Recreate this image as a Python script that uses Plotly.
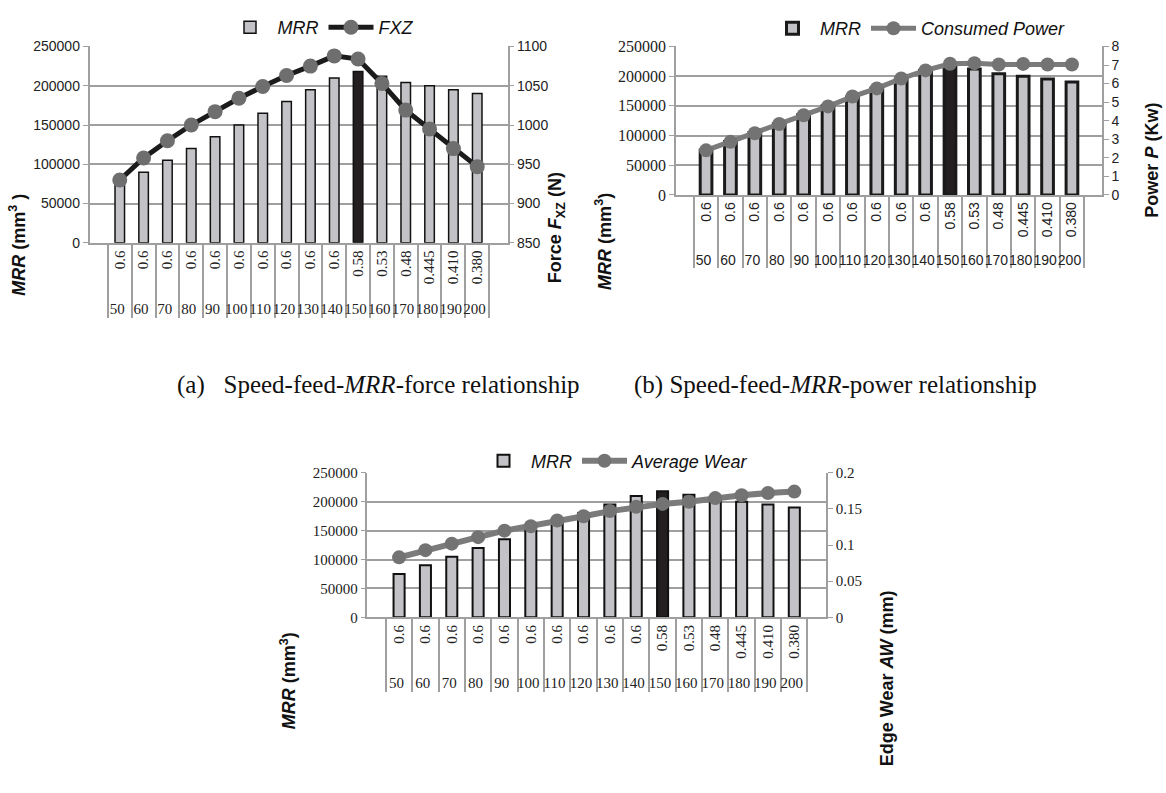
import plotly.graph_objects as go

# ---------------- data ----------------
speeds = [50, 60, 70, 80, 90, 100, 110, 120, 130, 140, 150, 160, 170, 180, 190, 200]
feeds = ["0.6", "0.6", "0.6", "0.6", "0.6", "0.6", "0.6", "0.6", "0.6", "0.6",
         "0.58", "0.53", "0.48", "0.445", "0.410", "0.380"]
mrr = [75000, 90000, 105000, 120000, 135000, 150000, 165000, 180000, 195000,
       210000, 218000, 212000, 204000, 200000, 195000, 190000]
fxz = [930, 958, 980, 1000, 1017, 1034, 1049, 1063, 1075, 1088, 1084, 1053,
       1019, 995, 970, 947]
power = [2.40, 2.86, 3.32, 3.82, 4.29, 4.77, 5.30, 5.74, 6.27, 6.71, 7.07, 7.10,
         7.03, 7.06, 7.03, 7.03]
wear = [0.083, 0.093, 0.102, 0.111, 0.120, 0.126, 0.134, 0.140, 0.147, 0.153,
        0.157, 0.160, 0.165, 0.169, 0.172, 0.174]
highlight_speed = 150

W, H = 1166, 793
SANS = "Liberation Sans, Arial, sans-serif"
SERIF = "Liberation Serif, Times New Roman, serif"
GRID = "#9f9f9f"
BARGRAY = "#c3c3c7"
DARK = "#231f20"

xcat = [[str(s) for s in speeds], feeds]
bar_colors = [DARK if s == highlight_speed else BARGRAY for s in speeds]


def px(x):
    return x / W


def py(y):
    return 1 - y / H


fig = go.Figure()

# ---------- chart (a) ----------
fig.add_trace(go.Bar(x=xcat, y=mrr, name="<i>MRR</i>", width=0.4,
                     marker=dict(color=bar_colors, line=dict(color="#111", width=1.5)),
                     xaxis="x", yaxis="y", legend="legend"))
fig.add_trace(go.Scatter(x=xcat, y=fxz, name="<i>FXZ</i>", mode="lines+markers",
                         line=dict(color="#1b1b1b", width=5),
                         marker=dict(color="#6e6e6e", size=15),
                         xaxis="x", yaxis="y2", legend="legend"))

# ---------- chart (b) ----------
fig.add_trace(go.Bar(x=xcat, y=mrr, name="<i>MRR</i>", width=0.48,
                     marker=dict(color=bar_colors, line=dict(color="#1a1a1a", width=3)),
                     xaxis="x2", yaxis="y3", legend="legend2"))
fig.add_trace(go.Scatter(x=xcat, y=power, name="<i>Consumed Power</i>", mode="lines+markers",
                         line=dict(color="#7b7b7b", width=5),
                         marker=dict(color="#737373", size=14),
                         xaxis="x2", yaxis="y4", legend="legend2"))

# ---------- chart (c) ----------
fig.add_trace(go.Bar(x=xcat, y=mrr, name="<i>MRR</i>", width=0.42,
                     marker=dict(color=bar_colors, line=dict(color="#111", width=2)),
                     xaxis="x3", yaxis="y5", legend="legend3"))
fig.add_trace(go.Scatter(x=xcat, y=wear, name="<i>Average Wear</i>", mode="lines+markers",
                         line=dict(color="#7b7b7b", width=6),
                         marker=dict(color="#737373", size=14),
                         xaxis="x3", yaxis="y6", legend="legend3"))


def xaxis_cfg(domain, anchor, fam, size):
    return dict(type="multicategory", domain=domain, anchor=anchor,
                showline=True, linecolor=GRID, linewidth=1.5,
                showdividers=True, dividercolor=GRID, dividerwidth=1.5,
                tickangle=-90, tickfont=dict(family=fam, size=size, color="#222"),
                showgrid=False, zeroline=False)


def yleft(domain, anchor, fam, size):
    return dict(domain=domain, anchor=anchor, range=[0, 250000], dtick=50000,
                tickformat="d", showgrid=True, gridcolor=GRID, gridwidth=1.5,
                showline=True, linecolor=GRID, linewidth=1.5, ticks="outside",
                ticklen=5, tickcolor=GRID, zeroline=False,
                tickfont=dict(family=fam, size=size, color="#222"))


def yright(overlay, anchor, rng, dtick, fam, size):
    return dict(overlaying=overlay, anchor=anchor, side="right", range=rng, dtick=dtick,
                showgrid=False, showline=True, linecolor=GRID, linewidth=1.5,
                ticks="outside", ticklen=5, tickcolor=GRID, zeroline=False,
                tickfont=dict(family=fam, size=size, color="#222"))


dom_a_x = [px(89.5), px(507.5)]
dom_a_y = [py(240), py(39.3)]
dom_b_x = [px(676), px(1102)]
dom_b_y = [py(191), py(39.3)]
dom_c_x = [px(367.4), px(826)]
dom_c_y = [py(622.7), py(475)]

leg_common = dict(orientation="h", xanchor="center", yanchor="middle",
                  bgcolor="rgba(0,0,0,0)", traceorder="normal", itemwidth=45,
                  font=dict(family=SANS, size=18, color="#111"))

fig.update_layout(
    width=W, height=H, margin=dict(l=0, r=0, t=0, b=0),
    paper_bgcolor="white", plot_bgcolor="white", bargap=0.5,
    xaxis=xaxis_cfg(dom_a_x, "y", SERIF, 15),
    yaxis=yleft(dom_a_y, "x", SANS, 14),
    yaxis2=yright("y", "x", [850, 1100], 50, SANS, 14),
    xaxis2=xaxis_cfg(dom_b_x, "y3", SANS, 14),
    yaxis3=yleft(dom_b_y, "x2", SERIF, 16),
    yaxis4=yright("y3", "x2", [0, 8], 1, SANS, 14),
    xaxis3=xaxis_cfg(dom_c_x, "y5", SERIF, 15),
    yaxis5=yleft(dom_c_y, "x3", SERIF, 15),
    yaxis6=yright("y5", "x3", [0, 0.2], 0.05, SERIF, 15),
    legend=dict(x=px(321), y=py(20), **leg_common),
    legend2=dict(x=px(918), y=py(21), **leg_common),
    legend3=dict(x=px(615), y=py(463), **leg_common),
    showlegend=True,
)

ann_font = dict(family=SANS, size=18, color="#111")
annotations = [
    dict(text="<b><i>MRR</i> (mm<sup>3</sup> )</b>", x=px(18), y=py(242), textangle=-90),
    dict(text="<b>Force <i>F</i><sub>XZ</sub> (N)</b>", x=px(556), y=py(225), textangle=-90),
    dict(text="<b><i>MRR</i> (mm<sup>3</sup>)</b>", x=px(604), y=py(239), textangle=-90),
    dict(text="<b>Power <i>P</i> (Kw)</b>", x=px(1152), y=py(156), textangle=-90),
    dict(text="<b><i>MRR</i> (mm<sup>3</sup>)</b>", x=px(288), y=py(688), textangle=-90),
]
for a in annotations:
    fig.add_annotation(xref="paper", yref="paper", showarrow=False,
                       xanchor="center", yanchor="middle", font=ann_font, **a)
fig.add_annotation(xref="paper", yref="paper", showarrow=False, textangle=-90,
                   text="<b>Edge Wear <i>AW</i> (mm)</b>", x=px(887), y=py(593),
                   xanchor="center", yanchor="top", font=ann_font)

cap_font = dict(family=SERIF, size=25, color="#111")
fig.add_annotation(xref="paper", yref="paper", showarrow=False,
                   text="(a)   Speed-feed-<i>MRR</i>-force relationship",
                   x=px(378), y=py(385), xanchor="center", yanchor="middle", font=cap_font)
fig.add_annotation(xref="paper", yref="paper", showarrow=False,
                   text="(b) Speed-feed-<i>MRR</i>-power relationship",
                   x=px(835), y=py(385), xanchor="center", yanchor="middle", font=cap_font)

fig.write_html("out.html")
